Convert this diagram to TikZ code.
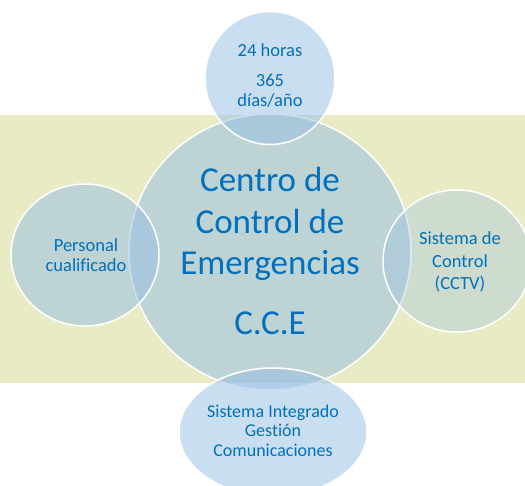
\documentclass[tikz,border=0pt]{standalone}
\usepackage{fontspec}
\setmainfont[Ligatures=NoCommon]{Carlito}
\usetikzlibrary{shapes.geometric}

\definecolor{bandbg}{RGB}{232,235,196}
\definecolor{bubble}{RGB}{150,190,228}
\definecolor{bubbletext}{RGB}{0,112,192}

\tikzset{
  bubblenode/.style={ellipse, draw=white, line width=1.5pt, fill=bubble,
    fill opacity=0.5, inner sep=0pt},
  bubbletxt/.style={text=bubbletext, align=center, anchor=base, inner sep=0pt},
}

\begin{document}
\begin{tikzpicture}[x=1pt, y=-1pt]

    \useasboundingbox (0,0) rectangle (525,486);

    %----- BACKGROUND BAND -----
    \fill[bandbg] (0,115) rectangle (525,383);

    %----- BUBBLES -----
    \node[bubblenode, minimum width=282pt, minimum height=276pt] (cce) at (270,252) {};
    \node[bubblenode, minimum width=130pt, minimum height=133pt] (horas) at (270,78) {};
    \node[bubblenode, minimum width=148pt, minimum height=142pt] (personal) at (85,255) {};
    \node[bubblenode, fill opacity=0.32, minimum width=148pt, minimum height=142pt] (cctv) at (457,261) {};
    \node[bubblenode, minimum width=188pt, minimum height=128pt] (gestion) at (273,432) {};

    %----- TEXTS (base = last line) -----
    \node[bubbletxt, font=\fontsize{35}{41.5}\selectfont] (cce-txt) at (270,335)
        {Centro de\\Control de\\Emergencias\\[18.5pt]C.C.E};
    \node[bubbletxt, font=\fontsize{18.5}{20}\selectfont] (horas-txt) at (270,107)
        {24 horas\\[10pt]365\\días/año};
    \node[bubbletxt, font=\fontsize{18.5}{20}\selectfont] (personal-txt) at (86,272)
        {Personal\\cualificado};
    \node[bubbletxt, font=\fontsize{18.5}{22.5}\selectfont] (cctv-txt) at (460,290)
        {Sistema de\\Control\\(CCTV)};
    \node[bubbletxt, font=\fontsize{18}{19.5}\selectfont] (gestion-txt) at (273,456)
        {Sistema Integrado\\Gestión\\Comunicaciones};

\end{tikzpicture}
\end{document}
